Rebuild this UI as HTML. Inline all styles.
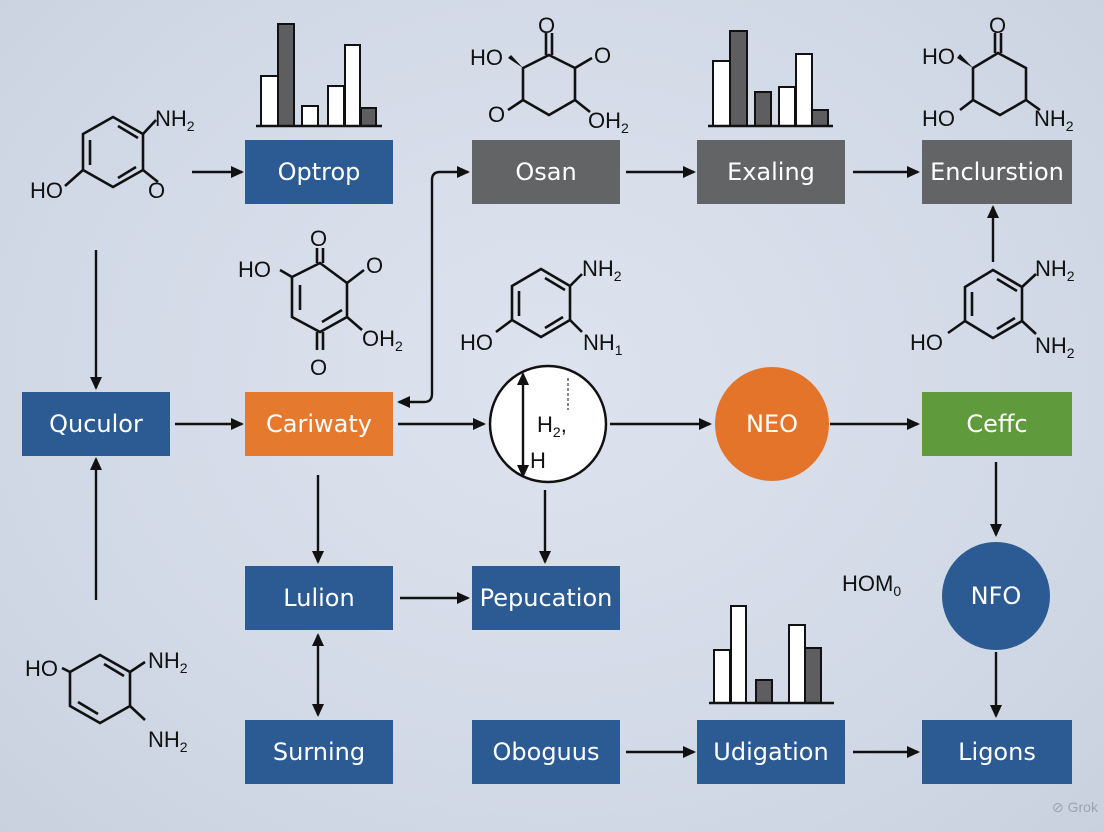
<!DOCTYPE html>
<html><head><meta charset="utf-8"><style>
html,body{margin:0;padding:0}
body{width:1104px;height:832px;overflow:hidden;background:radial-gradient(ellipse at 50% 45%,#dde3ee 0%,#d3dae7 60%,#c9d1df 100%);font-family:"Liberation Sans",sans-serif}
svg{display:block}
.bx{font-family:"DejaVu Sans","Liberation Sans",sans-serif;font-size:24px;fill:#fff;text-anchor:middle;dominant-baseline:central}
.ch{font-family:"Liberation Sans",sans-serif;font-size:22px;fill:#111}
.ch tspan.s{font-size:14px}
.l{stroke:#111;stroke-width:2.6;fill:none}
.a{stroke:#111;stroke-width:2.4;fill:none}
.bar{stroke:#111;stroke-width:2;fill:#fff}
.bd{stroke:#111;stroke-width:2;fill:#5e5e60}
</style></head><body>
<svg width="1104" height="832" viewBox="0 0 1104 832">
<defs><marker id="m" markerWidth="13" markerHeight="12" refX="11" refY="6" orient="auto-start-reverse" markerUnits="userSpaceOnUse"><path d="M0,0 L13,6 L0,12 z" fill="#111"/></marker></defs>

<rect x="245" y="140" width="148" height="64" fill="#2c5b94"/><text class="bx" x="319" y="172">Optrop</text>
<rect x="472" y="140" width="148" height="64" fill="#636466"/><text class="bx" x="546" y="172">Osan</text>
<rect x="697" y="140" width="148" height="64" fill="#636466"/><text class="bx" x="771" y="172">Exaling</text>
<rect x="922" y="140" width="150" height="64" fill="#636466"/><text class="bx" x="997" y="172">Enclurstion</text>
<rect x="22" y="392" width="148" height="64" fill="#2c5b94"/><text class="bx" x="96" y="424">Quculor</text>
<rect x="245" y="392" width="148" height="64" fill="#e57a2f"/><text class="bx" x="319" y="424">Cariwaty</text>
<circle cx="548" cy="424" r="58" fill="#fff" stroke="#111" stroke-width="2.5"/>
<circle cx="772" cy="424" r="57" fill="#e4742a"/><text class="bx" x="772" y="424">NEO</text>
<rect x="922" y="392" width="150" height="64" fill="#5f9a3c"/><text class="bx" x="997" y="424">Ceffc</text>
<circle cx="996" cy="596" r="54" fill="#2c5b94"/><text class="bx" x="996" y="596">NFO</text>
<rect x="245" y="566" width="148" height="64" fill="#2c5b94"/><text class="bx" x="319" y="598">Lulion</text>
<rect x="472" y="566" width="148" height="64" fill="#2c5b94"/><text class="bx" x="546" y="598">Pepucation</text>
<rect x="245" y="720" width="148" height="64" fill="#2c5b94"/><text class="bx" x="319" y="752">Surning</text>
<rect x="472" y="720" width="148" height="64" fill="#2c5b94"/><text class="bx" x="546" y="752">Oboguus</text>
<rect x="697" y="720" width="148" height="64" fill="#2c5b94"/><text class="bx" x="771" y="752">Udigation</text>
<rect x="922" y="720" width="150" height="64" fill="#2c5b94"/><text class="bx" x="997" y="752">Ligons</text>

<line class="a" x1="523" y1="374" x2="523" y2="476" marker-start="url(#m)" marker-end="url(#m)"/>
<line x1="568" y1="378" x2="568" y2="410" stroke="#111" stroke-width="1" stroke-dasharray="3,2"/>
<text class="ch" x="537" y="432" font-size="20">H<tspan class="s" dy="5">2</tspan><tspan dy="-5">,</tspan></text>
<text class="ch" x="530" y="468">H</text>

<g class="a">
<line x1="192" y1="172" x2="242" y2="172" marker-end="url(#m)"/>
<line x1="96" y1="250" x2="96" y2="388" marker-end="url(#m)"/>
<line x1="96" y1="600" x2="96" y2="459" marker-end="url(#m)"/>
<line x1="175" y1="424" x2="242" y2="424" marker-end="url(#m)"/>
<path d="M399,402 L424,402 Q432,402 432,394 L432,180 Q432,172 440,172 L468,172" marker-start="url(#m)" marker-end="url(#m)"/>
<line x1="398" y1="424" x2="484" y2="424" marker-end="url(#m)"/>
<line x1="610" y1="424" x2="710" y2="424" marker-end="url(#m)"/>
<line x1="830" y1="424" x2="918" y2="424" marker-end="url(#m)"/>
<line x1="626" y1="172" x2="694" y2="172" marker-end="url(#m)"/>
<line x1="853" y1="172" x2="918" y2="172" marker-end="url(#m)"/>
<line x1="993" y1="262" x2="993" y2="207" marker-end="url(#m)"/>
<line x1="318" y1="475" x2="318" y2="562" marker-end="url(#m)"/>
<line x1="545" y1="490" x2="545" y2="562" marker-end="url(#m)"/>
<line x1="400" y1="598" x2="468" y2="598" marker-end="url(#m)"/>
<line x1="318" y1="635" x2="318" y2="715" marker-start="url(#m)" marker-end="url(#m)"/>
<line x1="626" y1="752" x2="694" y2="752" marker-end="url(#m)"/>
<line x1="853" y1="752" x2="918" y2="752" marker-end="url(#m)"/>
<line x1="996" y1="462" x2="996" y2="535" marker-end="url(#m)"/>
<line x1="996" y1="652" x2="996" y2="716" marker-end="url(#m)"/>
</g>

<g>
<rect class="bar" x="261" y="76" width="17" height="50"/><rect class="bd" x="278" y="24" width="16" height="102"/>
<rect class="bar" x="302" y="106" width="16" height="20"/><rect class="bar" x="328" y="86" width="16" height="40"/>
<rect class="bar" x="345" y="45" width="15" height="81"/><rect class="bd" x="361" y="108" width="15" height="18"/>
<line x1="256" y1="126" x2="382" y2="126" stroke="#111" stroke-width="2.5"/>
<rect class="bar" x="713" y="61" width="17" height="65"/><rect class="bd" x="730" y="31" width="17" height="95"/>
<rect class="bd" x="755" y="92" width="16" height="34"/><rect class="bar" x="779" y="87" width="16" height="39"/>
<rect class="bar" x="796" y="54" width="16" height="72"/><rect class="bd" x="812" y="110" width="16" height="16"/>
<line x1="708" y1="126" x2="833" y2="126" stroke="#111" stroke-width="2.5"/>
<rect class="bar" x="714" y="650" width="16" height="53"/><rect class="bar" x="731" y="606" width="15" height="97"/>
<rect class="bd" x="756" y="680" width="16" height="23"/><rect class="bar" x="789" y="625" width="16" height="78"/>
<rect class="bd" x="805" y="648" width="16" height="55"/>
<line x1="709" y1="703" x2="834" y2="703" stroke="#111" stroke-width="2.5"/>
</g>

<g class="l">
<polygon points="113,117 143,134 143,170 113,187 83,170 83,134"/>
<line x1="90" y1="140" x2="90" y2="165"/><line x1="118" y1="126" x2="138" y2="138"/><line x1="118" y1="178" x2="136" y2="167"/>
<line x1="143" y1="134" x2="156" y2="120"/><line x1="143" y1="170" x2="158" y2="182"/><line x1="83" y1="170" x2="65" y2="186"/>
<polygon points="549,55 575,68 575,100 549,115 523,100 523,68"/>
<line x1="546" y1="55" x2="546" y2="33"/><line x1="552" y1="55" x2="552" y2="33"/>
<line x1="575" y1="68" x2="592" y2="58"/><line x1="523" y1="100" x2="508" y2="110"/><line x1="575" y1="100" x2="590" y2="112"/>
<polygon points="320,263 347,283 347,317 320,332 292,317 292,277"/>
<line x1="300" y1="285" x2="300" y2="310"/><line x1="322" y1="322" x2="342" y2="310"/>
<line x1="317" y1="263" x2="317" y2="248"/><line x1="323" y1="263" x2="323" y2="248"/>
<line x1="317" y1="332" x2="317" y2="350"/><line x1="323" y1="332" x2="323" y2="350"/>
<line x1="292" y1="277" x2="280" y2="270"/><line x1="347" y1="283" x2="364" y2="270"/><line x1="347" y1="317" x2="362" y2="330"/>
<polygon points="541,269 570,286 570,320 541,337 512,320 512,286"/>
<line x1="519" y1="291" x2="519" y2="316"/><line x1="545" y1="278" x2="565" y2="290"/><line x1="545" y1="328" x2="563" y2="317"/>
<line x1="570" y1="286" x2="582" y2="274"/><line x1="570" y1="320" x2="582" y2="332"/><line x1="512" y1="320" x2="496" y2="332"/>
<polygon points="998,53 1026,68 1026,100 1000,115 973,100 973,68"/>
<line x1="995" y1="53" x2="995" y2="33"/><line x1="1001" y1="53" x2="1001" y2="33"/>
<line x1="973" y1="100" x2="960" y2="110"/><line x1="1026" y1="100" x2="1040" y2="110"/>
<polygon points="993,270 1022,287 1022,321 993,338 965,321 965,287"/>
<line x1="972" y1="292" x2="972" y2="316"/><line x1="997" y1="279" x2="1017" y2="291"/><line x1="997" y1="329" x2="1015" y2="318"/>
<line x1="1022" y1="287" x2="1036" y2="274"/><line x1="1022" y1="321" x2="1036" y2="334"/><line x1="965" y1="321" x2="948" y2="333"/>
<polygon points="100,655 130,672 130,706 100,723 70,706 70,672"/>
<line x1="104" y1="664" x2="124" y2="676"/><line x1="78" y1="702" x2="98" y2="714"/>
<line x1="130" y1="672" x2="145" y2="662"/><line x1="130" y1="706" x2="145" y2="720"/><line x1="70" y1="672" x2="62" y2="668"/>
</g>
<polygon points="523,68 508,58 511,55" fill="#111"/>
<polygon points="973,68 957,58 960,54" fill="#111"/>

<g class="ch">
<text x="155" y="126">NH<tspan class="s" dy="5">2</tspan></text>
<text x="30" y="198">HO</text><text x="148" y="198">O</text>
<text x="538" y="33">O</text><text x="470" y="65">HO</text><text x="594" y="63">O</text>
<text x="488" y="122">O</text><text x="588" y="128">OH<tspan class="s" dy="5">2</tspan></text>
<text x="310" y="246">O</text><text x="238" y="277">HO</text><text x="366" y="273">O</text>
<text x="362" y="346">OH<tspan class="s" dy="5">2</tspan></text><text x="310" y="375">O</text>
<text x="582" y="276">NH<tspan class="s" dy="5">2</tspan></text><text x="460" y="350">HO</text><text x="583" y="350">NH<tspan class="s" dy="5">1</tspan></text>
<text x="989" y="33">O</text><text x="922" y="64">HO</text><text x="922" y="126">HO</text><text x="1034" y="126">NH<tspan class="s" dy="5">2</tspan></text>
<text x="1035" y="276">NH<tspan class="s" dy="5">2</tspan></text><text x="910" y="350">HO</text><text x="1035" y="353">NH<tspan class="s" dy="5">2</tspan></text>
<text x="25" y="676">HO</text><text x="148" y="668">NH<tspan class="s" dy="5">2</tspan></text><text x="148" y="747">NH<tspan class="s" dy="5">2</tspan></text>
<text x="842" y="591">HOM<tspan class="s" dy="5">0</tspan></text>
</g>
<text x="1052" y="812" font-size="14" fill="#9aa3b0" font-family="Liberation Sans,sans-serif">⊘ Grok</text>
</svg>
</body></html>
